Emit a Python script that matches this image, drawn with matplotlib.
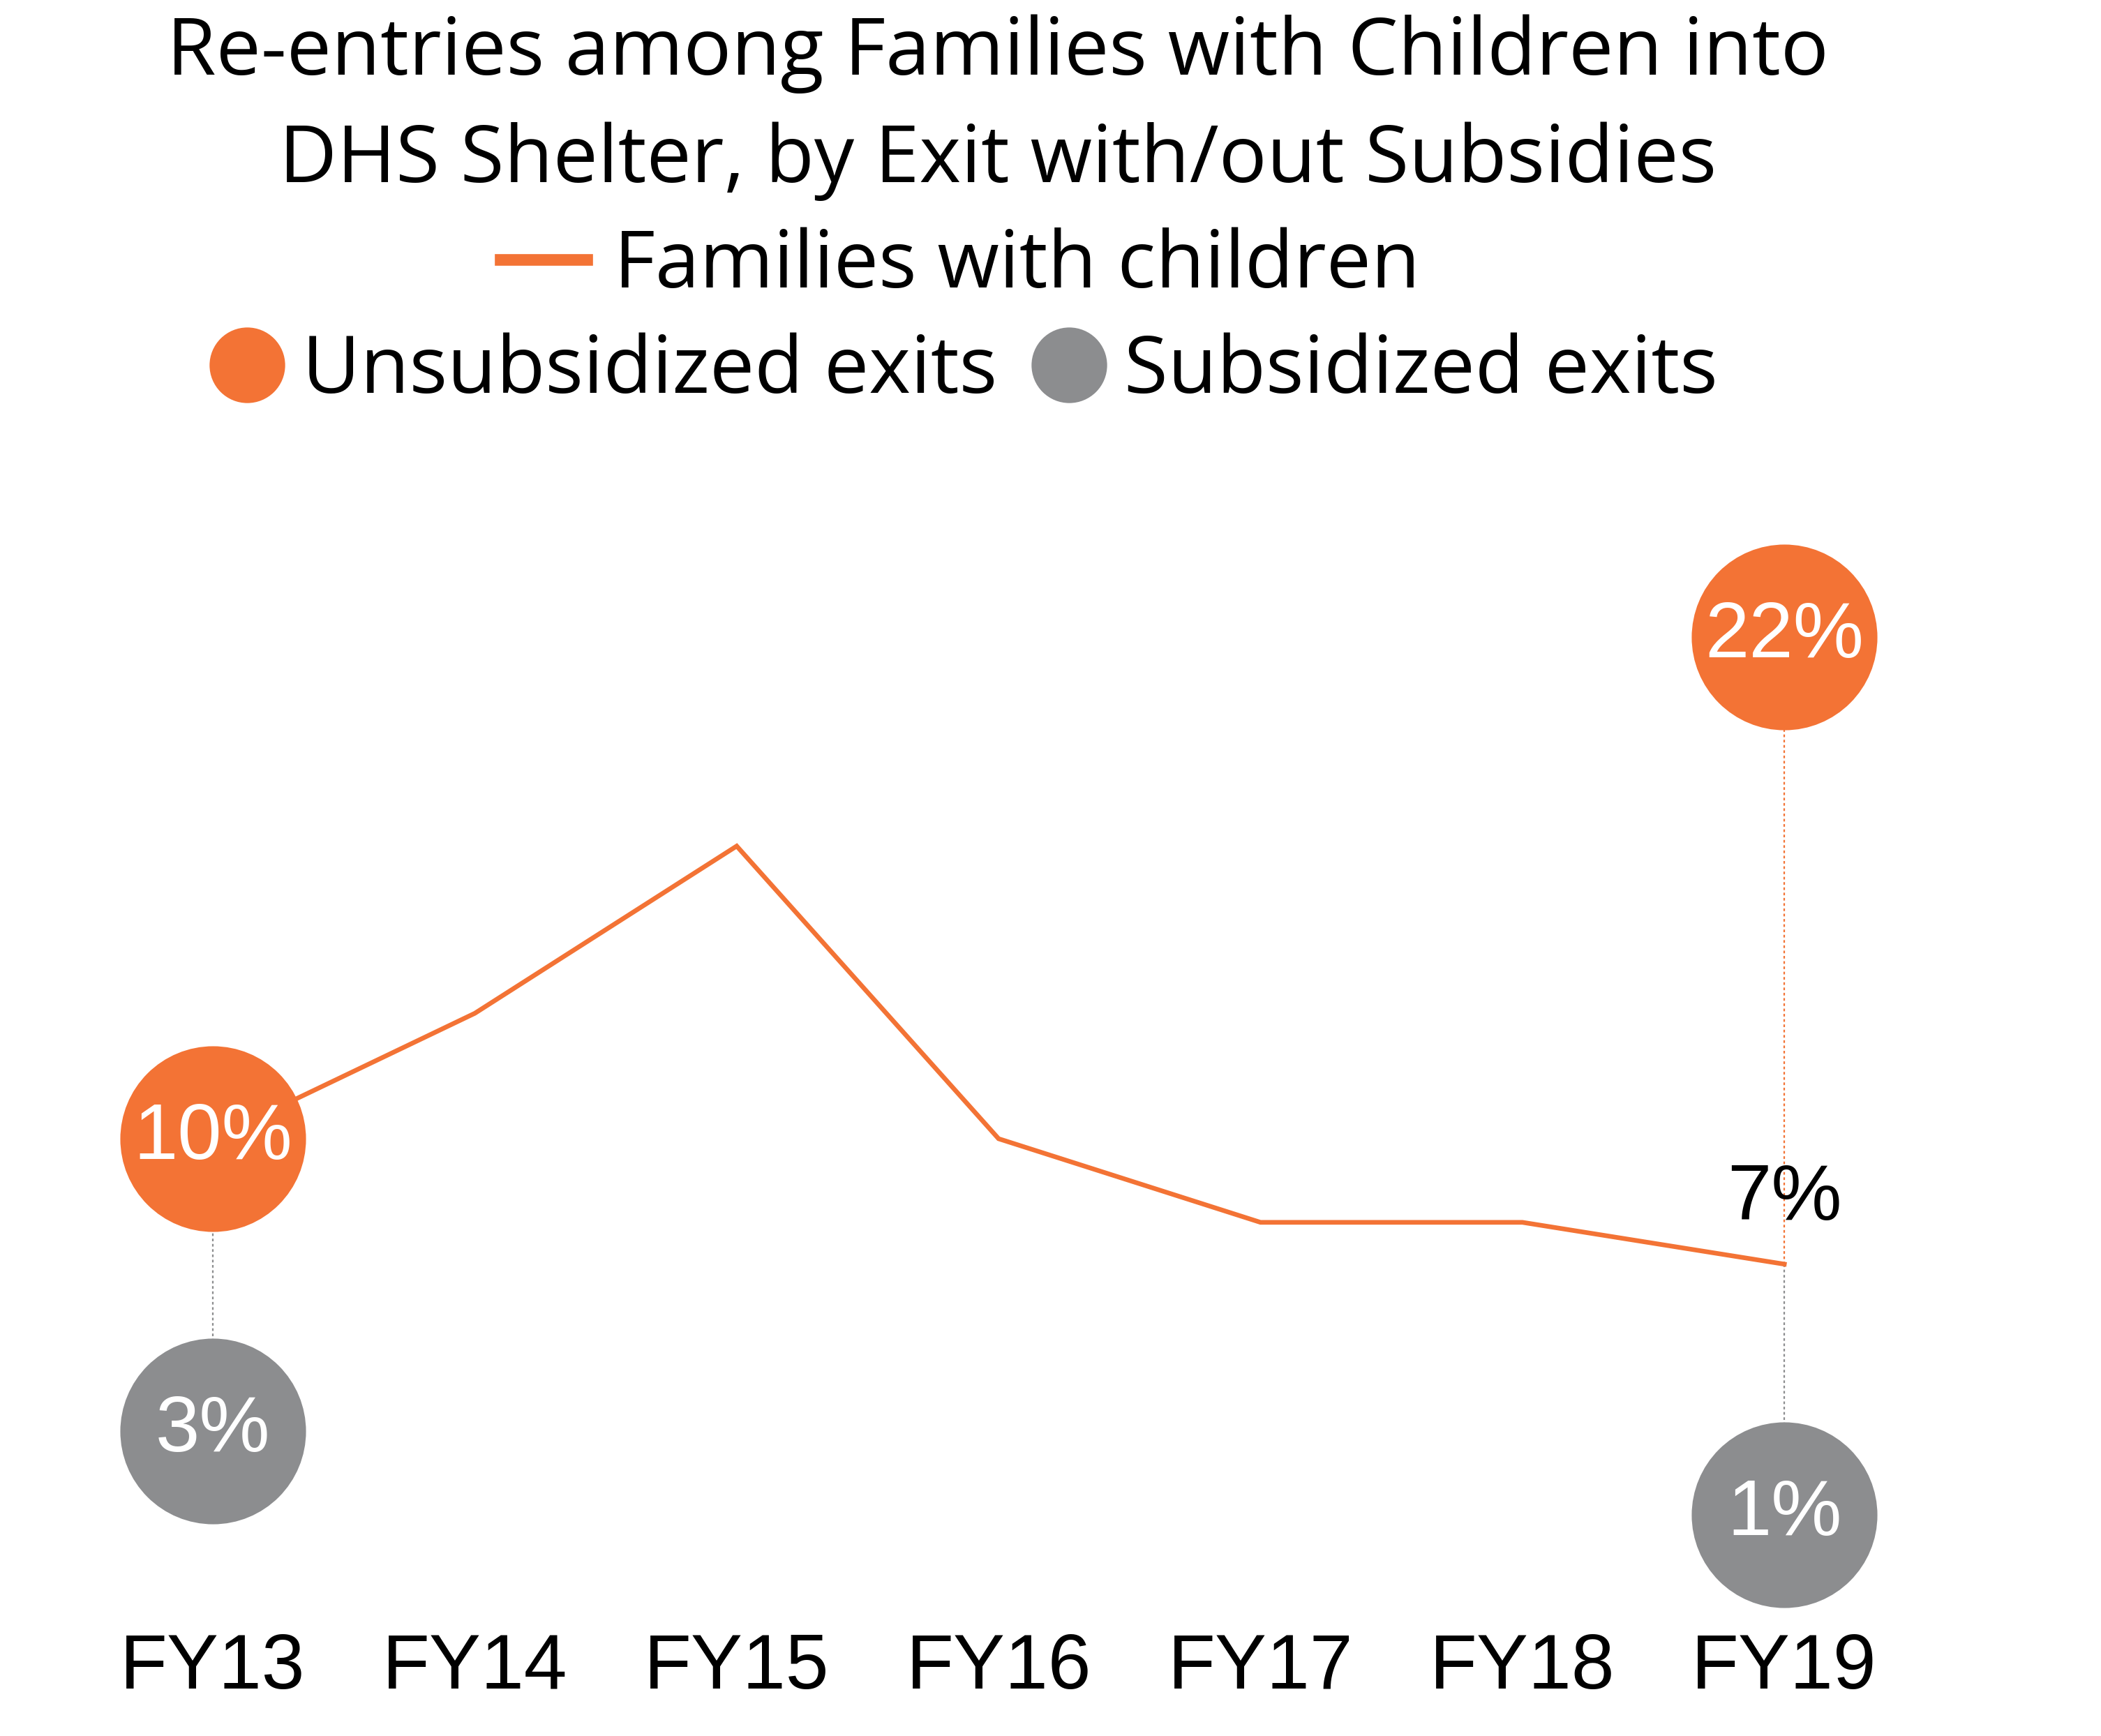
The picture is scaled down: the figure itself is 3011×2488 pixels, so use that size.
import matplotlib.pyplot as plt
from matplotlib.lines import Line2D

# Data
years = ['FY13', 'FY14', 'FY15', 'FY16', 'FY17', 'FY18', 'FY19']
families = [10, 13, 17, 10, 8, 8, 7]
exit_years = ['FY13', 'FY19']
unsubsidized = [10, 22]
subsidized = [3, 1]

ORANGE = '#F37335'
GRAY = '#8C8D8F'
TITLE_FONT = 'Open Sans'
NUM_FONT = 'Liberation Sans'
TSIZE = 41.2

fig = plt.figure(figsize=(3011 / 200, 2488 / 200), dpi=200)
ax = fig.add_axes([0.039, 0.0659, 0.8726, 0.6153])

x = list(range(len(years)))
ax.plot(x, families, color=ORANGE, lw=2.4, solid_joinstyle='miter', zorder=2)

# connectors between the exit circles and the line
for yr, u, s in zip(exit_years, unsubsidized, subsidized):
    i = years.index(yr)
    ax.vlines(i, families[i], u, color=ORANGE, lw=0.8, linestyles=(0, (1.7, 1.7)), zorder=1)
    ax.vlines(i, s, families[i], color=GRAY, lw=0.8, linestyles=(0, (1.7, 1.7)), zorder=1)

ex = [years.index(yr) for yr in exit_years]
ax.scatter(ex, unsubsidized, s=9178, color=ORANGE, lw=0, zorder=3, clip_on=False)
ax.scatter(ex, subsidized, s=9178, color=GRAY, lw=0, zorder=3, clip_on=False)
for i, u, s in zip(ex, unsubsidized, subsidized):
    ax.text(i, u, f'{u}%', color='white', fontsize=41, family=NUM_FONT,
            ha='center', va='center', zorder=4)
    ax.text(i, s, f'{s}%', color='white', fontsize=41, family=NUM_FONT,
            ha='center', va='center', zorder=4)

# last value of the line
ax.annotate(f'{families[-1]}%', (x[-1], families[-1]), xytext=(0, 23),
            textcoords='offset points', ha='center', va='baseline',
            fontsize=41, family=NUM_FONT, color='black')

ax.set_xlim(-0.5, 6.5)
ax.set_ylim(-1.55, 24)
ax.set_xticks(x, years, fontsize=40, family=NUM_FONT)
ax.tick_params(axis='x', length=0, pad=5.4)
ax.set_yticks([])
for sp in ax.spines.values():
    sp.set_visible(False)

# title
fig.text(0.475, 1 - 107 / 2488, 'Re-entries among Families with Children into',
         ha='center', va='baseline', fontsize=TSIZE, family=TITLE_FONT)
fig.text(0.475, 1 - 261 / 2488, 'DHS Shelter, by Exit with/out Subsidies',
         ha='center', va='baseline', fontsize=TSIZE, family=TITLE_FONT)

# legends
leg_font = {'family': TITLE_FONT, 'size': TSIZE}
h1 = [Line2D([], [], color=ORANGE, lw=6)]
fig.legend(h1, ['Families with children'], loc='center', bbox_to_anchor=(0.457, 1 - 382 / 2488),
           frameon=False, prop=leg_font, handlelength=1.08, handletextpad=0.34, borderpad=0)
h2 = [Line2D([], [], ls='', marker='o', ms=39, mew=0, color=ORANGE),
      Line2D([], [], ls='', marker='o', ms=39, mew=0, color=GRAY)]
fig.legend(h2, ['Unsubsidized exits', 'Subsidized exits'], loc='center', ncol=2,
           bbox_to_anchor=(0.4586, 1 - 533 / 2488), frameon=False, prop=leg_font,
           handlelength=0.95, handletextpad=0.22, columnspacing=0.42, borderpad=0)

fig.savefig('out.png', dpi=200)
